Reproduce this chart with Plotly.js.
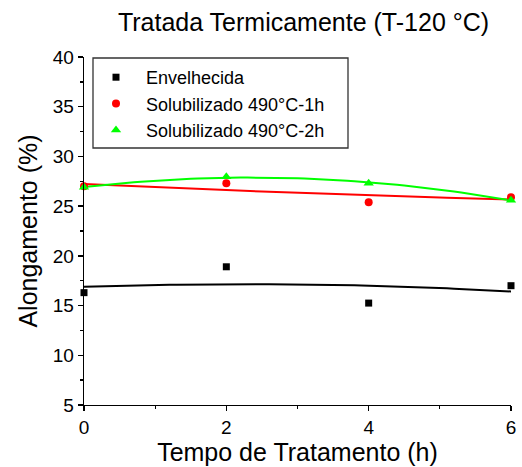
<!DOCTYPE html>
<html>
<head>
<meta charset="utf-8">
<script src="https://cdn.plot.ly/plotly-3.0.1.min.js"></script>
<style>html,body{margin:0;padding:0;background:#fff}#chart{width:522px;height:467px}</style>
</head>
<body>
<div id="chart"></div>
<script>
// Data
const tempo = [0, 2, 4, 6];
const envelhecida = [16.3, 18.9, 15.25, 17.0];
const solub1h = [27.0, 27.3, 25.4, 25.9];
const solub2h = [26.9, 27.95, 27.3, 25.6];
const seriesNames = ["Envelhecida", "Solubilizado 490°C-1h", "Solubilizado 490°C-2h"];
const yTicks = [5, 10, 15, 20, 25, 30, 35, 40];
const xTicks = [0, 2, 4, 6];

// Quadratic least-squares fit (as drawn by the original software)
function polyfit2(xs, ys) {
  let S = [0,0,0,0,0], T = [0,0,0];
  for (let i = 0; i < xs.length; i++) {
    let p = 1;
    for (let k = 0; k < 5; k++) { S[k] += p; if (k < 3) T[k] += p * ys[i]; p *= xs[i]; }
  }
  const A = [[S[0],S[1],S[2],T[0]],[S[1],S[2],S[3],T[1]],[S[2],S[3],S[4],T[2]]];
  for (let c = 0; c < 3; c++) {
    for (let r = c + 1; r < 3; r++) {
      const f = A[r][c] / A[c][c];
      for (let k = c; k < 4; k++) A[r][k] -= f * A[c][k];
    }
  }
  const coef = [0,0,0];
  for (let r = 2; r >= 0; r--) {
    let s = A[r][3];
    for (let k = r + 1; k < 3; k++) s -= A[r][k] * coef[k];
    coef[r] = s / A[r][r];
  }
  return coef;
}
function fitCurve(xs, ys) {
  const c = polyfit2(xs, ys);
  const fx = [], fy = [];
  const x0 = xs[0], x1 = xs[xs.length - 1];
  for (let i = 0; i <= 60; i++) {
    const x = x0 + (x1 - x0) * i / 60;
    fx.push(x); fy.push(c[0] + c[1] * x + c[2] * x * x);
  }
  return {x: fx, y: fy};
}

const colors = ["#000000", "#ff0000", "#00ff00"];
const symbols = ["square", "circle", "triangle-up"];
const sizes = [7, 8, 9];
const ys = [envelhecida, solub1h, solub2h];

const traces = [];
ys.forEach((y, i) => {
  const f = fitCurve(tempo, y);
  traces.push({x: f.x, y: f.y, mode: "lines", line: {color: colors[i], width: 2}, showlegend: false, hoverinfo: "skip", cliponaxis: false});
});
ys.forEach((y, i) => {
  traces.push({x: tempo, y: y, mode: "markers", name: "\u00a0\u00a0" + seriesNames[i], cliponaxis: false,
    marker: {color: colors[i], symbol: symbols[i], size: sizes[i], line: {width: 0}}});
});

const font = "Liberation Sans, Arial, sans-serif";
const layout = {
  width: 522, height: 467,
  margin: {l: 84, r: 11, t: 57, b: 62},
  paper_bgcolor: "#fff", plot_bgcolor: "#fff",
  font: {family: font, color: "#000"},
  showlegend: true,
  title: {text: "Tratada Termicamente (T-120 °C)", font: {size: 25, family: font, color: "#000"},
    x: 303.5 / 522, xref: "container", xanchor: "center", y: 1 - 22 / 467, yref: "container", yanchor: "middle"},
  xaxis: {
    range: [0, 6], tickvals: xTicks, ticktext: xTicks.map(String),
    showgrid: false, zeroline: false, showline: true, linecolor: "#000", linewidth: 1.3,
    ticks: "outside", ticklen: 5, tickwidth: 1.3, tickcolor: "#000",
    minor: {dtick: 1, tick0: 0, ticks: "outside", ticklen: 3, tickwidth: 1.3, tickcolor: "#000", showgrid: false},
    tickfont: {size: 19, family: font, color: "#000"},
    title: {text: "Tempo de Tratamento (h)", font: {size: 25, family: font, color: "#000"}, standoff: 6},
    automargin: false, mirror: false
  },
  yaxis: {
    range: [5, 40], tickvals: yTicks, ticktext: yTicks.map(String),
    showgrid: false, zeroline: false, showline: true, linecolor: "#000", linewidth: 1.3,
    ticks: "outside", ticklen: 5, tickwidth: 1.3, tickcolor: "#000",
    minor: {dtick: 2.5, tick0: 5, ticks: "outside", ticklen: 3, tickwidth: 1.3, tickcolor: "#000", showgrid: false},
    tickfont: {size: 19, family: font, color: "#000"},
    title: {text: "Alongamento (%)", font: {size: 25, family: font, color: "#000"}, standoff: 8},
    automargin: false, mirror: false
  },
  shapes: [{
    type: "rect", xref: "paper", yref: "paper", layer: "below",
    x0: (93 - 84) / 427, x1: (348 - 84) / 427, y0: 1 - (148 - 57) / 348, y1: 1 - (58 - 57) / 348,
    line: {color: "#333", width: 1.3}, fillcolor: "#fff"
  }],
  legend: {
    x: (96 - 84) / 427, y: 1 - (59 - 57) / 348, xanchor: "left", yanchor: "top",
    bgcolor: "rgba(0,0,0,0)", borderwidth: 0,
    font: {size: 18, family: font, color: "#000"},
    tracegroupgap: 0
  }
};
Plotly.newPlot("chart", traces, layout, {staticPlot: true, displayModeBar: false});
</script>
</body>
</html>
